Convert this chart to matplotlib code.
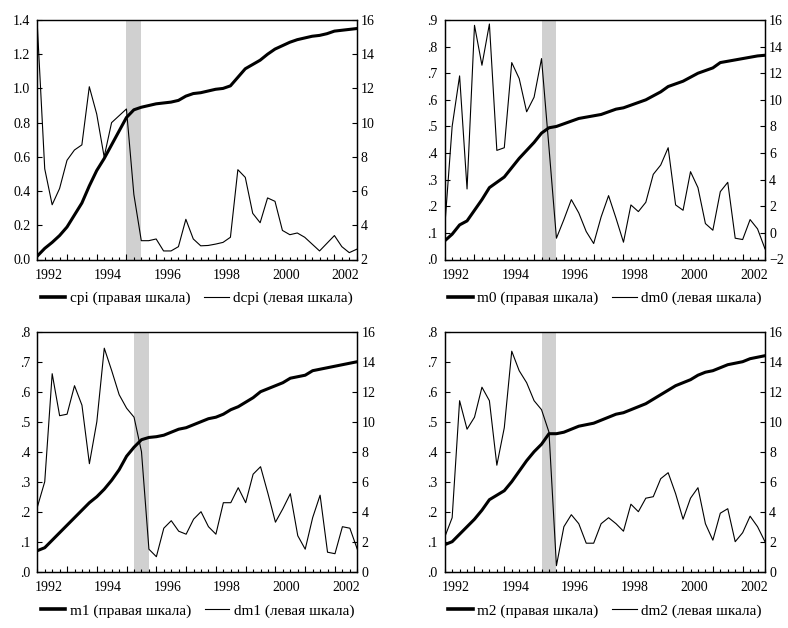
import numpy as np
import matplotlib.pyplot as plt
from matplotlib.lines import Line2D

plt.rcParams['font.family'] = ['Liberation Serif', 'DejaVu Serif']
plt.rcParams['font.size'] = 10

# квартальные наблюдения 1992Q1 - 2002Q4
n_obs = 44
quarters = 1992 + 0.25 * np.arange(n_obs)
year_labels = [1992, 1994, 1996, 1998, 2000, 2002]

# темпы прироста (левая шкала)
dcpi = [1.37, 0.53, 0.32, 0.415, 0.58, 0.64, 0.67, 1.01, 0.85, 0.60, 0.80, 0.84,
        0.88, 0.38, 0.11, 0.11, 0.12, 0.05, 0.05, 0.075, 0.235, 0.12, 0.08, 0.082,
        0.09, 0.10, 0.13, 0.525, 0.48, 0.27, 0.215, 0.36, 0.34, 0.17, 0.145, 0.155,
        0.13, 0.09, 0.05, 0.095, 0.14, 0.075, 0.04, 0.06]
dm0 = [0.12, 0.50, 0.69, 0.265, 0.88, 0.73, 0.885, 0.41, 0.42, 0.74, 0.68, 0.555,
       0.61, 0.755, 0.42, 0.08, 0.15, 0.225, 0.175, 0.105, 0.06, 0.16, 0.24, 0.155,
       0.065, 0.205, 0.18, 0.215, 0.32, 0.355, 0.42, 0.205, 0.185, 0.33, 0.27, 0.135,
       0.11, 0.255, 0.29, 0.08, 0.075, 0.15, 0.115, 0.04]
dm1 = [0.215, 0.30, 0.66, 0.52, 0.525, 0.62, 0.555, 0.36, 0.50, 0.745, 0.67, 0.59,
       0.545, 0.515, 0.40, 0.075, 0.05, 0.145, 0.17, 0.135, 0.125, 0.175, 0.20, 0.15,
       0.125, 0.23, 0.23, 0.28, 0.23, 0.325, 0.35, 0.26, 0.165, 0.21, 0.26, 0.12,
       0.075, 0.18, 0.255, 0.065, 0.06, 0.15, 0.145, 0.075]
dm2 = [0.115, 0.18, 0.57, 0.475, 0.515, 0.615, 0.57, 0.355, 0.48, 0.735, 0.67, 0.63,
       0.57, 0.54, 0.465, 0.02, 0.15, 0.19, 0.16, 0.095, 0.095, 0.16, 0.18, 0.16,
       0.135, 0.225, 0.20, 0.245, 0.25, 0.31, 0.33, 0.26, 0.175, 0.245, 0.28, 0.16,
       0.105, 0.195, 0.21, 0.10, 0.13, 0.185, 0.15, 0.10]

# уровни (правая шкала)
cpi = [2.2, 2.65, 3.0, 3.4, 3.9, 4.6, 5.3, 6.3, 7.2, 7.9, 8.7, 9.5, 10.3, 10.75,
       10.9, 11.0, 11.1, 11.15, 11.2, 11.3, 11.55, 11.7, 11.75, 11.85, 11.95, 12.0,
       12.15, 12.65, 13.15, 13.4, 13.65, 14.0, 14.3, 14.5, 14.7, 14.85, 14.95, 15.05,
       15.1, 15.2, 15.35, 15.4, 15.45, 15.5]
m0 = [-0.6, -0.1, 0.6, 0.9, 1.7, 2.5, 3.4, 3.8, 4.2, 4.9, 5.6, 6.2, 6.8, 7.5, 7.9,
      8.0, 8.2, 8.4, 8.6, 8.7, 8.8, 8.9, 9.1, 9.3, 9.4, 9.6, 9.8, 10.0, 10.3, 10.6,
      11.0, 11.2, 11.4, 11.7, 12.0, 12.2, 12.4, 12.8, 12.9, 13.0, 13.1, 13.2, 13.3, 13.35]
m1 = [1.4, 1.6, 2.1, 2.6, 3.1, 3.6, 4.1, 4.6, 5.0, 5.5, 6.1, 6.8, 7.7, 8.3, 8.8,
      8.95, 9.0, 9.1, 9.3, 9.5, 9.6, 9.8, 10.0, 10.2, 10.3, 10.5, 10.8, 11.0, 11.3,
      11.6, 12.0, 12.2, 12.4, 12.6, 12.9, 13.0, 13.1, 13.4, 13.5, 13.6, 13.7, 13.8,
      13.9, 14.0]
m2 = [1.8, 2.0, 2.5, 3.0, 3.5, 4.1, 4.8, 5.1, 5.4, 6.0, 6.7, 7.4, 8.0, 8.5, 9.2,
      9.2, 9.3, 9.5, 9.7, 9.8, 9.9, 10.1, 10.3, 10.5, 10.6, 10.8, 11.0, 11.2, 11.5,
      11.8, 12.1, 12.4, 12.6, 12.8, 13.1, 13.3, 13.4, 13.6, 13.8, 13.9, 14.0, 14.2,
      14.3, 14.4]

# затенённые периоды
shade_cpi = (1995.0, 1995.5)
shade_money = (1995.25, 1995.75)

W, H = 788, 628


def box(l, t, r, b):
    return [l / W, 1 - b / H, (r - l) / W, (b - t) / H]


panels = [
    (box(37.3, 20, 356.7, 259.5), dcpi, cpi, 'cpi', 'dcpi',
     np.arange(0, 1.41, 0.2), False, (2, 16), shade_cpi),
    (box(444.7, 20, 765, 259.5), dm0, m0, 'm0', 'dm0',
     np.arange(0, 0.91, 0.1), True, (-2, 16), shade_money),
    (box(37.3, 331.7, 357.3, 571.7), dm1, m1, 'm1', 'dm1',
     np.arange(0, 0.81, 0.1), True, (0, 16), shade_money),
    (box(444.7, 331.7, 765, 571.7), dm2, m2, 'm2', 'dm2',
     np.arange(0, 0.81, 0.1), True, (0, 16), shade_money),
]

fig = plt.figure(figsize=(7.88, 6.28), dpi=100)

for pos, thin, thick, lev_name, d_name, lticks, short, rlim, shade in panels:
    ax = fig.add_axes(pos)
    ax.axvspan(shade[0], shade[1], color='#d0d0d0', lw=0, zorder=0)
    ax.plot(quarters, thin, color='black', lw=0.8)
    ax.set_xlim(1992, 2002.75)
    ax.set_ylim(lticks[0], lticks[-1])
    labels = [f'{v:.1f}' for v in lticks]
    if short:
        labels = [s[1:] if s.startswith('0') else s for s in labels]
    ax.set_yticks(lticks, labels)

    # годы - длинные риски, кварталы - короткие
    ax.set_xticks(np.arange(1993, 2003), [''] * 10)
    ax.set_xticks(quarters, minor=True)
    ax.tick_params(axis='x', which='major', direction='in', length=4.5, width=0.8)
    ax.tick_params(axis='x', which='minor', direction='in', length=2.5, width=0.8)
    ax.tick_params(axis='y', direction='in', length=3.5, width=0.8, pad=5)
    for yr in year_labels:
        ax.annotate(str(yr), xy=(yr + 0.375, 0), xycoords=('data', 'axes fraction'),
                    xytext=(0, -11.5), textcoords='offset points',
                    ha='center', va='center')

    ax2 = ax.twinx()
    ax2.plot(quarters, thick, color='black', lw=2.2)
    ax2.set_ylim(*rlim)
    ax2.set_yticks(np.arange(rlim[0], rlim[1] + 1, 2))
    ax2.tick_params(axis='y', direction='in', length=3.5, width=0.8, pad=3)

    for a in (ax, ax2):
        for sp in a.spines.values():
            sp.set_linewidth(0.9)
    ax.spines['top'].set_color('#555555')

    handles = [Line2D([], [], color='black', lw=2.6),
               Line2D([], [], color='black', lw=0.8)]
    ax2.legend(handles, [f'{lev_name} (правая шкала)', f'{d_name} (левая шкала)'],
               loc='center', bbox_to_anchor=(0.5, -39 / 239.5), ncol=2,
               frameon=False, fontsize=11, handlelength=1.6, handletextpad=0.3,
               columnspacing=0.9, borderaxespad=0, borderpad=0)

fig.savefig('out.png', dpi=100)
